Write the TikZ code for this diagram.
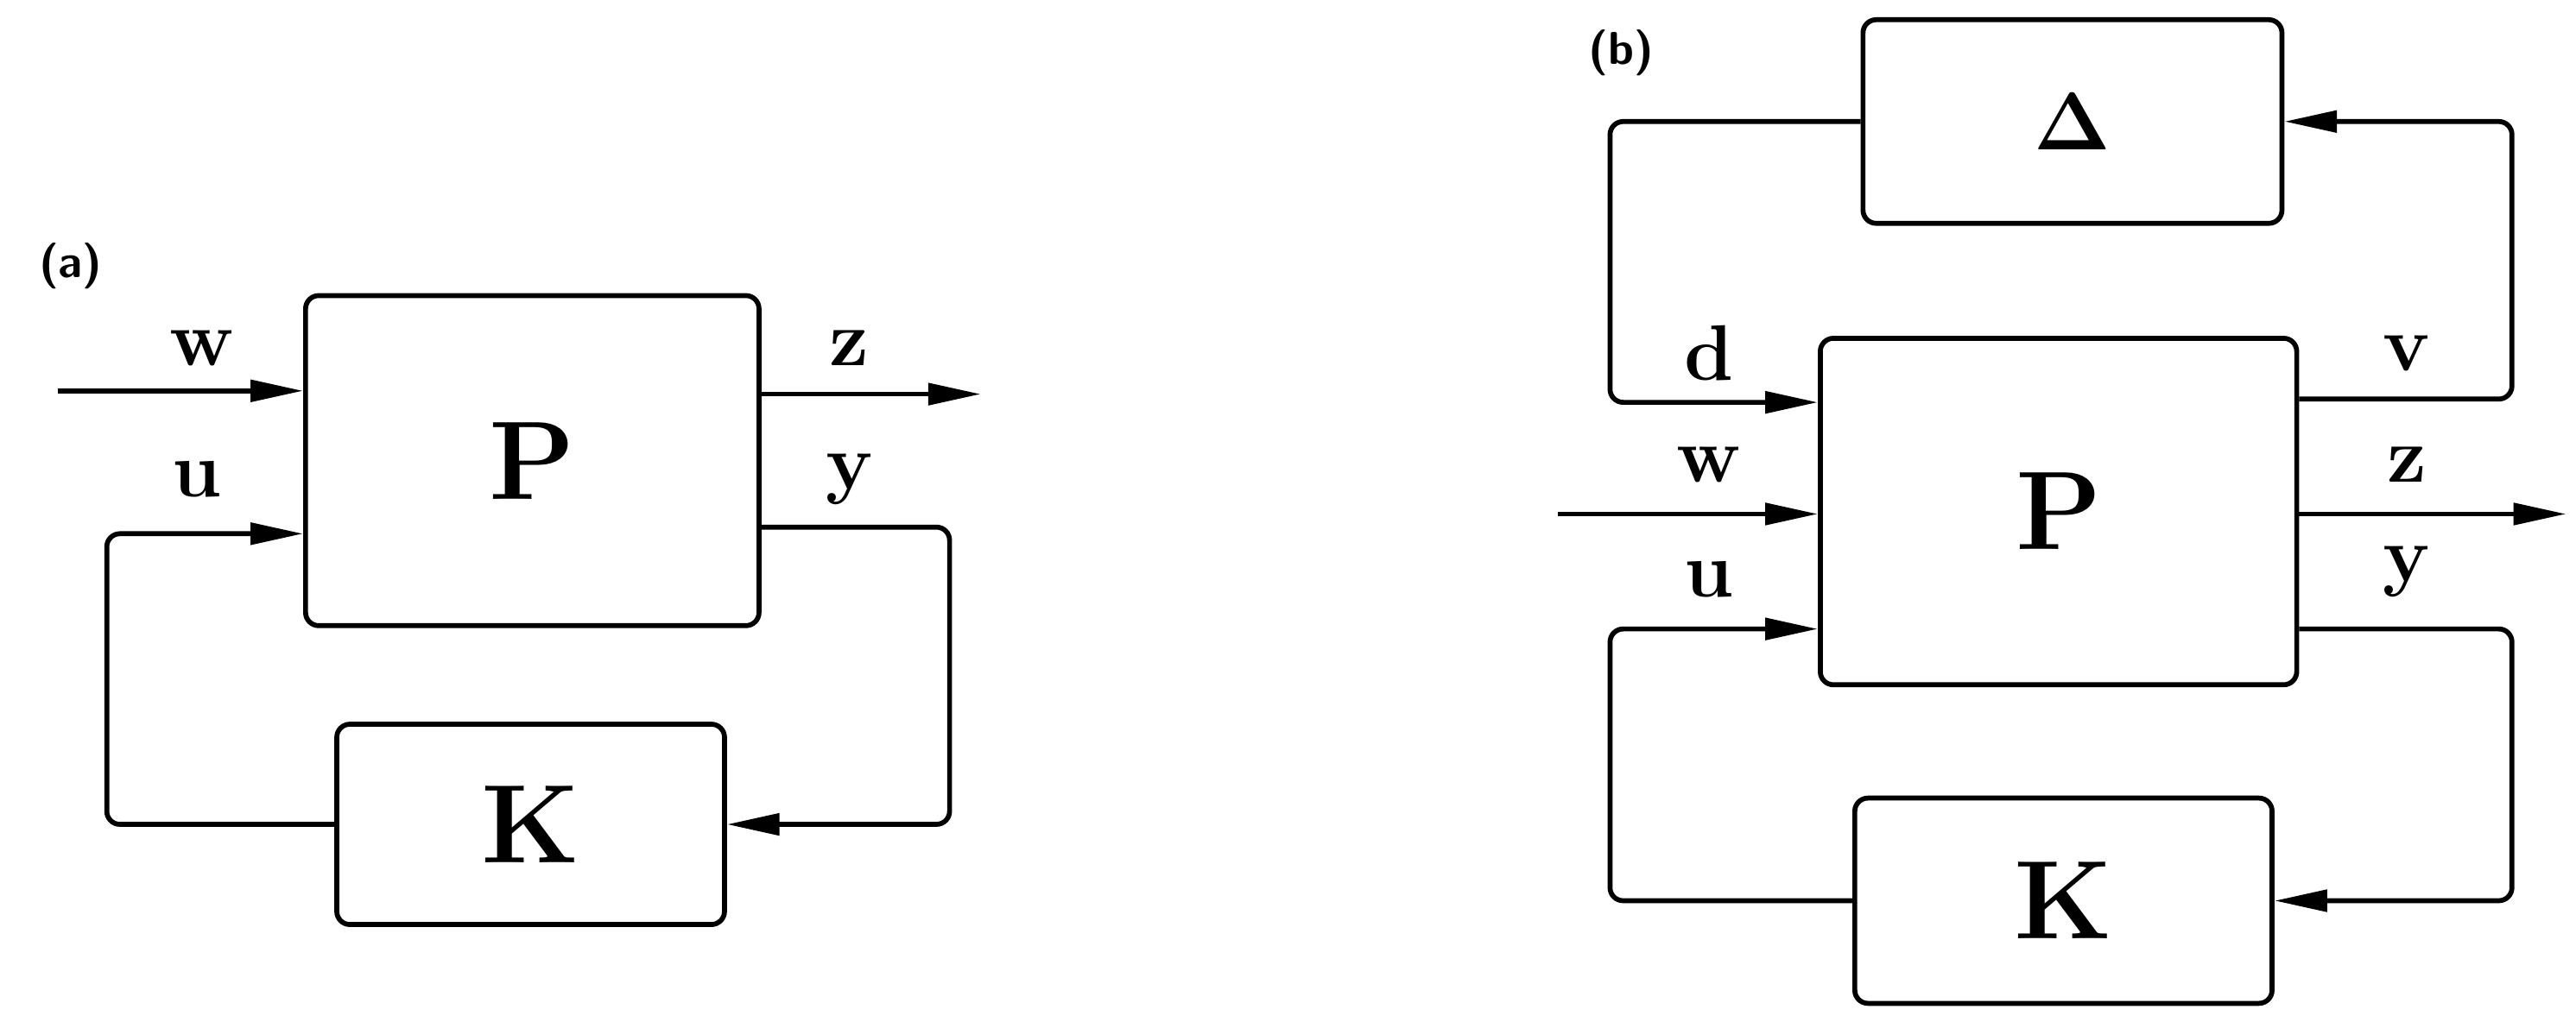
\documentclass[tikz,border=0pt]{standalone}
\usepackage{amsmath}
\usetikzlibrary{arrows.meta}
\begin{document}
\begin{tikzpicture}[x=0.5pt,y=-0.5pt,
  blk/.style={draw,line width=1.5pt,rounded corners=4pt,inner sep=0pt},
  ln/.style={line width=1.5pt,rounded corners=4pt},
  arr/.style={ln,-{Triangle[length=16pt,width=6.5pt]}},
  lab/.style={font=\fontsize{24}{26}\selectfont\bfseries},
  big/.style={font=\fontsize{34}{36}\selectfont\bfseries},
  tag/.style={font=\fontsize{14}{16}\selectfont\sffamily\bfseries}]
\useasboundingbox (0,0) rectangle (1568,622);
% panel (a)
\node[blk,minimum width=138pt,minimum height=100.5pt,big] (P) at (324,280.5) {P};
\node[blk,minimum width=118pt,minimum height=61pt,big] (K) at (323,502) {K};
\node[tag] at (43,162) {(a)};
\coordinate (wa) at (35,238);
\coordinate (za) at (597,240);
\coordinate (ua) at (65,325);
\coordinate (ya) at (578,321);
\draw[arr] (wa) -- (P.west |- wa);
\draw[arr] (P.east |- za) -- (za);
\draw[arr] (K.west) -- (ua |- K.west) -- (ua) -- (P.west |- ua);
\draw[arr] (P.east |- ya) -- (ya) -- (ya |- K.east) -- (K.east);
\node[lab] at (123,212) {w};
\node[lab] at (120,292) {u};
\node[lab] at (517,212) {z};
\node[lab] at (517,292) {y};
% panel (b)
\node[blk,minimum width=127.5pt,minimum height=62pt,big] (D) at (1261.5,74) {$\boldsymbol{\Delta}$};
\node[blk,minimum width=145pt,minimum height=105.5pt,big] (P2) at (1253,311.5) {P};
\node[blk,minimum width=127pt,minimum height=62.5pt,big] (K2) at (1256,548.5) {K};
\node[tag] at (987,32) {(b)};
\coordinate (db) at (980,245);
\coordinate (wb) at (948,313);
\coordinate (ub) at (980,383);
\coordinate (vb) at (1529,243);
\coordinate (zb) at (1562,313);
\coordinate (yb) at (1529,383);
\draw[arr] (D.west) -- (db |- D.west) -- (db) -- (P2.west |- db);
\draw[arr] (wb) -- (P2.west |- wb);
\draw[arr] (K2.west) -- (ub |- K2.west) -- (ub) -- (P2.west |- ub);
\draw[arr] (P2.east |- vb) -- (vb) -- (vb |- D.east) -- (D.east);
\draw[arr] (P2.east |- zb) -- (zb);
\draw[arr] (P2.east |- yb) -- (yb) -- (yb |- K2.east) -- (K2.east);
\node[lab] at (1040,215) {d};
\node[lab] at (1040,283) {w};
\node[lab] at (1040,353) {u};
\node[lab] at (1465,215) {v};
\node[lab] at (1465,283) {z};
\node[lab] at (1465,348) {y};
\end{tikzpicture}
\end{document}
